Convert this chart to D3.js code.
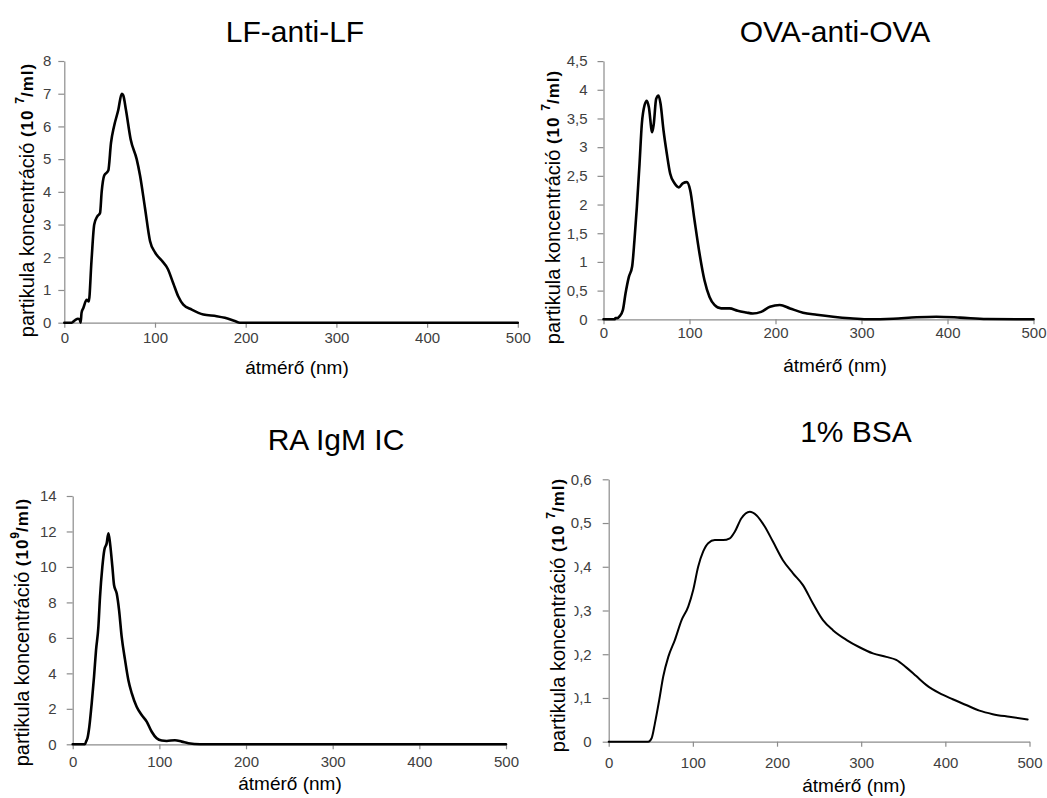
<!DOCTYPE html>
<html>
<head>
<meta charset="utf-8">
<script src="https://cdn.jsdelivr.net/npm/d3@7"></script>
<style>
  html, body { margin: 0; padding: 0; background: #fff; }
  svg { display: block; }
</style>
</head>
<body>
<svg id="chart" width="1047" height="798"></svg>
<script>
// ---------------- DATA ----------------
const titles = ["LF-anti-LF", "OVA-anti-OVA", "RA IgM IC", "1% BSA"];
const xTitle = "átmérő (nm)";
const yUnits = ["7", "7", "9", "7"];
const xTicks = [0, 100, 200, 300, 400, 500];

const lfYTicks = [0, 1, 2, 3, 4, 5, 6, 7, 8];
const ovaYTicks = [0, 0.5, 1, 1.5, 2, 2.5, 3, 3.5, 4, 4.5];
const raYTicks = [0, 2, 4, 6, 8, 10, 12, 14];
const bsaYTicks = [0, 0.1, 0.2, 0.3, 0.4, 0.5, 0.6];

const lfX = [0, 8, 12, 15, 17, 18, 19, 21, 24.7, 27, 30, 33, 36.4, 39.4, 41.2, 44, 48.5, 51.5, 54.8, 59.5, 63.3, 65, 68, 73.2, 79.8, 83.5, 89, 94.5, 100, 107.4, 114, 120.2, 125.7, 131.2, 140.5, 153.3, 168, 177, 188, 193.7, 250, 300, 350, 400, 450, 500];
const lfY = [0, 0, 0.08, 0.12, 0.1, 0.0, 0.3, 0.45, 0.7, 0.65, 1.9, 3.0, 3.25, 3.35, 4.0, 4.5, 4.65, 5.5, 6.0, 6.5, 7.0, 6.95, 6.5, 5.6, 5.0, 4.5, 3.5, 2.5, 2.15, 1.9, 1.65, 1.2, 0.8, 0.55, 0.4, 0.25, 0.2, 0.15, 0.05, 0, 0, 0, 0, 0, 0, 0];

const ovaX = [0, 12.8, 14, 16, 18.6, 22.5, 25.6, 29.5, 33.3, 36, 38.8, 41.9, 44.6, 47.7, 50.4, 52.7, 56.6, 58.5, 61.2, 64, 66.3, 69.8, 73.6, 77.5, 82.6, 87.6, 92.2, 96.9, 100.8, 105.8, 111.6, 117.4, 123.3, 129, 136.8, 146.5, 156, 166, 173.6, 183.3, 193.6, 205, 216.9, 232, 248, 267, 286.6, 306, 337, 364, 387, 414.5, 445.6, 500];
const ovaY = [0, 0, 0.02, 0.02, 0.05, 0.16, 0.45, 0.74, 0.92, 1.38, 1.96, 2.71, 3.41, 3.73, 3.81, 3.70, 3.26, 3.41, 3.84, 3.9, 3.76, 3.29, 2.89, 2.54, 2.37, 2.30, 2.37, 2.39, 2.25, 1.73, 1.15, 0.68, 0.39, 0.25, 0.19, 0.19, 0.15, 0.12, 0.10, 0.13, 0.22, 0.25, 0.19, 0.115, 0.08, 0.045, 0.017, 0, 0.01, 0.035, 0.045, 0.03, 0.005, 0];

const raX = [0, 14.2, 15.4, 17, 19.2, 21.9, 24.6, 26.9, 29.6, 31.5, 34.2, 36.5, 39.2, 41.2, 43.1, 45.8, 47.7, 50.8, 53.5, 56.5, 60.4, 64.2, 68.1, 73.8, 79.6, 85.4, 91.2, 96.9, 102.7, 108.5, 118, 125.8, 133.5, 147, 200, 300, 400, 500];
const raY = [0, 0, 0.15, 0.34, 1.0, 2.3, 3.8, 5.3, 6.6, 8.3, 10.0, 10.96, 11.33, 11.9, 11.33, 10.0, 8.98, 8.5, 7.57, 6.07, 4.76, 3.63, 2.88, 2.12, 1.65, 1.28, 0.71, 0.34, 0.21, 0.19, 0.23, 0.15, 0.06, 0, 0, 0, 0, 0];

const bsaX = [0, 47, 51, 54.9, 60, 64.8, 70.8, 78.7, 86.6, 94.5, 100.4, 106.3, 112.3, 118.2, 126.1, 136, 143.9, 149.8, 157.7, 167.6, 175.5, 185.4, 195.3, 207, 219, 230.8, 242.7, 254.6, 266.4, 282.3, 298, 313.9, 329.8, 341.6, 353.5, 365.4, 377.2, 393, 408.8, 424.7, 440.5, 456.3, 476, 497.8];
const bsaY = [0, 0, 0.008, 0.042, 0.095, 0.149, 0.194, 0.233, 0.278, 0.309, 0.347, 0.4, 0.435, 0.454, 0.461, 0.461, 0.465, 0.48, 0.511, 0.526, 0.518, 0.492, 0.457, 0.415, 0.385, 0.358, 0.316, 0.278, 0.255, 0.233, 0.216, 0.202, 0.194, 0.187, 0.17, 0.15, 0.13, 0.111, 0.097, 0.084, 0.071, 0.063, 0.057, 0.051];

// ---------------- LAYOUT (positions & styles) ----------------
const panels = [
  { xs: lfX, ys: lfY, yTicks: lfYTicks, yMax: 8,   x0: 64.3,  x1: 517.8,  yTop: 61,    yBot: 322.7,
    tx: 295, ty: 42,  xtx: 297, xty: 374, ylx: 27,  yly: 200, yPad: 7,  xPad: 4.5, lw: 2.6, gap: true },
  { xs: ovaX, ys: ovaY, yTicks: ovaYTicks, yMax: 4.5, x0: 603.5, x1: 1033.5, yTop: 61.1, yBot: 319.3,
    tx: 835, ty: 42,  xtx: 835, xty: 372, ylx: 553, yly: 207, yPad: 10, xPad: 3.5, lw: 2.6, gap: true },
  { xs: raX, ys: raY, yTicks: raYTicks, yMax: 14,  x0: 72.7,  x1: 506,    yTop: 496,   yBot: 744.3,
    tx: 336, ty: 450, xtx: 290, xty: 790, ylx: 22,  yly: 632, yPad: 10, xPad: 7.5, lw: 2.6, gap: false },
  { xs: bsaX, ys: bsaY, yTicks: bsaYTicks, yMax: 0.6, x0: 608.7, x1: 1029.5, yTop: 479.3, yBot: 741.7,
    tx: 856, ty: 442, xtx: 854, xty: 792, ylx: 558, yly: 615, yPad: 11, xPad: 11, lw: 2.0, mask: true, gap: true }
];

const fmt = v => String(Math.round(v * 100) / 100).replace('.', ',');
const svg = d3.select("#chart");
svg.append("rect").attr("width", 1047).attr("height", 798).attr("fill", "#fff");

panels.forEach((p, i) => {
  const g = svg.append("g");
  const x = d3.scaleLinear().domain([0, 500]).range([p.x0, p.x1]);
  const y = d3.scaleLinear().domain([0, p.yMax]).range([p.yBot, p.yTop]);

  // axes
  const ax = g.append("g").attr("transform", `translate(0,${p.yBot})`)
    .call(d3.axisBottom(x).tickValues(xTicks).tickSize(5).tickPadding(p.xPad).tickSizeOuter(0));
  const ay = g.append("g").attr("transform", `translate(${p.x0},0)`)
    .call(d3.axisLeft(y).tickValues(p.yTicks).tickSize(6).tickPadding(p.yPad).tickFormat(fmt).tickSizeOuter(0));
  [ax, ay].forEach(a => {
    a.select(".domain").attr("stroke", "#8c8c8c").attr("stroke-width", 1.2);
    a.selectAll(".tick line").attr("stroke", "#8c8c8c").attr("stroke-width", 1.2);
    a.selectAll(".tick text").attr("fill", "#404040")
      .style("font-family", "'Liberation Sans', Arial, sans-serif").style("font-size", "15px");
  });

  // curve
  const data = p.xs.map((d, k) => [d, p.ys[k]]);
  g.append("path").datum(data)
    .attr("fill", "none").attr("stroke", "#000").attr("stroke-width", p.lw)
    .attr("stroke-linejoin", "round").attr("stroke-linecap", "round")
    .attr("d", d3.line().x(d => x(d[0])).y(d => y(d[1])).curve(d3.curveMonotoneX));

  // title
  g.append("text").attr("x", p.tx).attr("y", p.ty).attr("text-anchor", "middle")
    .style("font-family", "'Liberation Sans', Arial, sans-serif").style("font-size", "30px")
    .attr("fill", "#000").text(titles[i]);

  // x title
  g.append("text").attr("x", p.xtx).attr("y", p.xty).attr("text-anchor", "middle")
    .style("font-family", "'Liberation Sans', Arial, sans-serif").style("font-size", "19px")
    .attr("fill", "#000").text(xTitle);

  // white box clipping tick labels (as in reference, panel 4)
  if (p.mask) {
    g.append("rect").attr("x", 540).attr("y", 550).attr("width", 34.5).attr("height", 170).attr("fill", "#fff");
  }

  // y title
  const yt = g.append("text")
    .attr("transform", `translate(${p.ylx},${p.yly}) rotate(-90)`)
    .attr("text-anchor", "middle").attr("dominant-baseline", "central")
    .style("font-family", "'Liberation Sans', Arial, sans-serif").attr("fill", "#000");
  yt.append("tspan").style("font-size", "20px").text("partikula koncentráció ");
  yt.append("tspan").style("font-size", "17px").style("font-weight", "bold").style("letter-spacing", "1px")
    .text(p.gap ? "(10 " : "(10");
  yt.append("tspan").style("font-size", "12px").style("font-weight", "bold").attr("dy", -7).text(yUnits[i]);
  yt.append("tspan").style("font-size", "17px").style("font-weight", "bold").style("letter-spacing", "1px")
    .attr("dy", 7).text("/ml)");
});
</script>
</body>
</html>
